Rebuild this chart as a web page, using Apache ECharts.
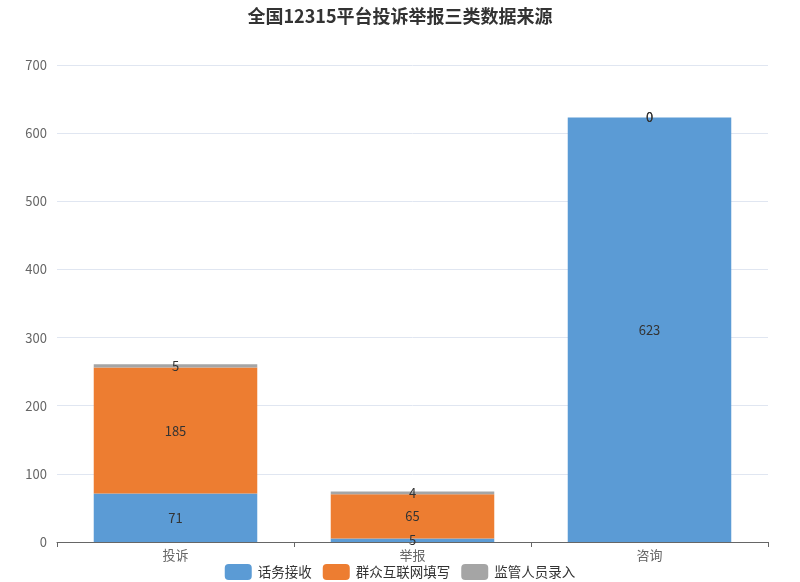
<!DOCTYPE html>
<html><head><meta charset="utf-8">
<script src="https://cdn.jsdelivr.net/npm/echarts@6/dist/echarts.min.js"></script>
<style>html,body{margin:0;padding:0;background:#fff}#c{width:800px;height:582px}</style>
</head><body><div id="c"></div>
<script>
const categories = ['投诉', '举报', '咨询'];
const seriesNames = ['话务接收', '群众互联网填写', '监管人员录入'];
const phoneData = [71, 5, 623];
const webData = [185, 65, 0];
const staffData = [5, 4, 0];
const yTicks = [0, 100, 200, 300, 400, 500, 600, 700];

const colors = ['#5b9bd5', '#ed7d31', '#a5a5a5'];
const chart = echarts.init(document.getElementById('c'));
const font = '"Noto Sans CJK SC", "Noto Sans", sans-serif';
const mk = (name, data, color) => ({
  name, type: 'bar', stack: 'total', data, barWidth: '69%',
  itemStyle: { color },
  label: { show: true, position: 'inside', color: '#333', fontSize: 13, fontFamily: font },
  emphasis: { disabled: true }
});
chart.setOption({
  animation: false,
  textStyle: { fontFamily: font },
  title: { text: '全国12315平台投诉举报三类数据来源', left: 'center', top: 2,
    textStyle: { fontSize: 18, fontWeight: 'bold', color: '#333', fontFamily: font } },
  grid: { left: 57, right: 32, top: 65, bottom: 40 },
  legend: { bottom: 2, padding: [0, 5, 0, 5], itemWidth: 27, itemHeight: 16, itemGap: 11, icon: 'roundRect',
    textStyle: { fontSize: 13.5, color: '#333', fontFamily: font, padding: [0, 0, 0, 1] }, data: seriesNames },
  xAxis: { type: 'category', data: categories,
    axisLine: { lineStyle: { color: '#666' } },
    axisTick: { show: true, alignWithLabel: false, lineStyle: { color: '#666' } },
    axisLabel: { color: '#666', fontSize: 13, margin: 7 } },
  yAxis: { type: 'value', min: yTicks[0], max: yTicks[yTicks.length - 1], interval: 100,
    axisLine: { show: false }, axisTick: { show: false },
    axisLabel: { color: '#666', fontSize: 13, margin: 10 },
    splitLine: { lineStyle: { color: '#e0e6f1' } } },
  series: [
    mk(seriesNames[0], phoneData, colors[0]),
    mk(seriesNames[1], webData, colors[1]),
    mk(seriesNames[2], staffData, colors[2])
  ]
});
</script></body></html>
